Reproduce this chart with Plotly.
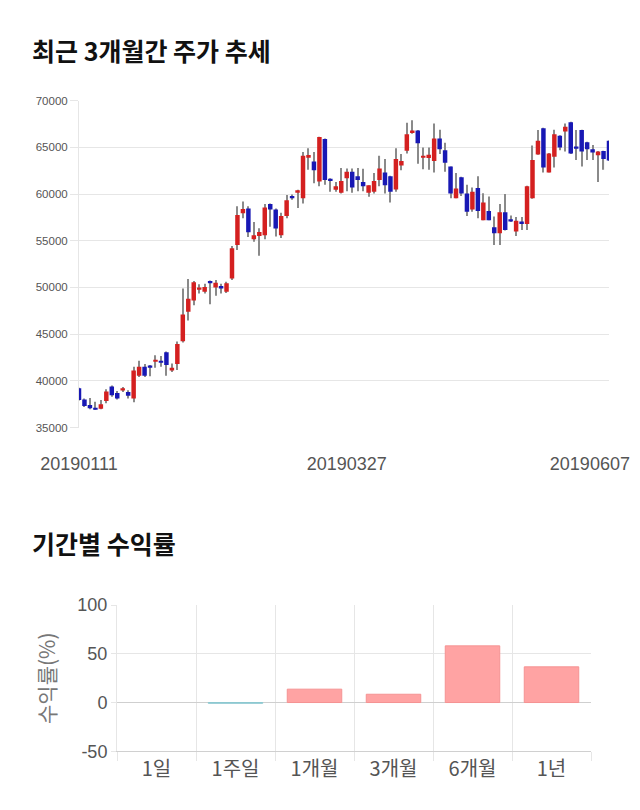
import plotly.graph_objects as go

# ---------------- data ----------------
date_ticks = ["20190111", "20190327", "20190607"]
date_tick_pos = [0, 49, 93.5]

opens = [39200, 38000, 37400, 37100, 37000, 37850, 39400, 38700, 38950, 38800,
         38100, 40550, 41500, 41650, 42050, 42150, 43050, 41100, 41800, 44250,
         47400, 48600, 49850, 49550, 50700, 50000, 50150, 49550, 50950, 54550,
         57950, 58450, 55150, 55500, 55600, 58950, 58350, 55600, 57650, 59800,
         60250, 59550, 64000, 63500, 61350, 65900, 61650, 60450, 60150, 61700,
         62400, 61900, 61300, 60150, 60250, 61500, 62300, 61900, 60500, 63050,
         64650, 66550, 66800, 63900, 63850, 63550, 65950, 64700, 62950, 59550,
         61800, 60050, 58350, 60650, 57200, 58200, 56450, 55800, 58050, 57300,
         56000, 57050, 56800, 59550, 64250, 67050, 62300, 64000, 66250, 66700,
         67700, 65100, 66850, 65550, 64800, 64150, 64600, 65700]
highs = [39250, 38100, 38150, 37750, 37950, 39100, 39500, 38900, 39350, 39000,
         41500, 42150, 41800, 41700, 42750, 42650, 43150, 41850, 44200, 49900,
         50900, 50700, 50350, 50400, 50750, 50800, 50400, 50600, 54450, 58700,
         59200, 58700, 57000, 56350, 58950, 59000, 58450, 58000, 59900, 59950,
         60450, 64500, 64900, 64500, 66150, 65950, 61700, 61300, 62800, 62750,
         62750, 62800, 62700, 60950, 62250, 64100, 63750, 61950, 64900, 64300,
         67650, 67900, 66850, 65000, 65000, 67550, 66900, 65500, 62950, 62250,
         61850, 61000, 60700, 61900, 60100, 59750, 57600, 58950, 60000, 57700,
         57550, 57550, 60900, 65200, 66850, 67100, 64400, 66900, 66300, 67550,
         67750, 66850, 66900, 65600, 65250, 64600, 64650, 65750]
lows = [37900, 37200, 36950, 36900, 36950, 37600, 38300, 38000, 38800, 38100,
        37700, 40400, 40400, 40500, 41400, 41500, 40550, 40950, 41150, 44100,
        46450, 48100, 49350, 49350, 48200, 49100, 49350, 49400, 50800, 54000,
        57400, 55400, 54900, 53400, 55150, 56500, 55450, 55300, 57400, 59400,
        58500, 59000, 62600, 61150, 60850, 61000, 60250, 60250, 60050, 60300,
        60150, 60300, 60300, 59700, 60050, 60850, 60050, 59100, 60250, 62550,
        64350, 66450, 63250, 62650, 62600, 62300, 64300, 62400, 59550, 59550,
        59800, 57650, 58100, 57400, 57200, 57200, 54550, 54550, 56100, 57000,
        55500, 56150, 56150, 59500, 64200, 62300, 62300, 62850, 64700, 64550,
        64300, 63650, 62950, 63650, 63650, 61300, 62600, 63550]
closes = [37950, 37300, 37050, 36950, 37500, 38850, 38450, 38100, 39200, 38400,
          41100, 41500, 40550, 41450, 42200, 41950, 41700, 41400, 43950, 47100,
          48800, 50550, 50000, 50050, 50450, 50500, 49900, 50450, 54200, 57750,
          58400, 55900, 55600, 55950, 58550, 58350, 56300, 57650, 59350, 59550,
          60400, 64100, 64180, 62550, 66100, 61500, 61400, 60850, 61400, 62400,
          60700, 61500, 60850, 60950, 61400, 62750, 60950, 60250, 63750, 63550,
          66400, 66800, 65450, 64100, 64200, 65950, 64800, 63350, 60050, 60600,
          60050, 58100, 60250, 58200, 59100, 57200, 55800, 58050, 56150, 57050,
          57150, 56800, 60850, 63650, 65700, 62850, 64350, 66400, 65000, 67200,
          64350, 64950, 64550, 64800, 64450, 64550, 63750, 63600]

periods = ["1일", "1주일", "1개월", "3개월", "6개월", "1년"]
returns = [0.0, -0.8, 13.7, 8.5, 58.1, 36.6]
ret_ticks = [-50, 0, 50, 100]
ret_ticktext = ["-50", "0", "50", "100"]

# ---------------- styles ----------------
UP = "#d42020"
DOWN = "#1818b4"
WICK = "#8a8a8a"
GRID = "#e6e6e6"
W, H = 640, 810
OFF = 8  # page body margin offset (browser default)


def px_x(x):
    return (x - OFF) / W


def px_y(y):
    return 1 - (y - OFF) / H


idx = list(range(len(opens)))
body_base = [min(o, c) for o, c in zip(opens, closes)]
body_len = [max(abs(c - o), 130) for o, c in zip(opens, closes)]
body_col = [UP if c >= o else DOWN for o, c in zip(opens, closes)]

fig = go.Figure()

fig.add_trace(go.Bar(
    x=idx, y=[h - l for h, l in zip(highs, lows)], base=lows,
    width=0.2, marker=dict(color=WICK, line=dict(width=0)),
    xaxis="x", yaxis="y", hoverinfo="skip", showlegend=False))
fig.add_trace(go.Bar(
    x=idx, y=body_len, base=body_base,
    width=0.82, marker=dict(color=body_col, line=dict(width=0)),
    xaxis="x", yaxis="y", showlegend=False))

ret_col = ["#ffa3a3" if r >= 0 else "#a8d8de" for r in returns]
ret_line = ["#f59393" if r >= 0 else "#8cc8d0" for r in returns]
ret_lw = [0 if r == 0 else 1 for r in returns]
fig.add_trace(go.Bar(
    x=periods, y=returns, width=0.69,
    marker=dict(color=ret_col, line=dict(color=ret_line, width=ret_lw)),
    xaxis="x2", yaxis="y2", showlegend=False))

num_font = "Liberation Sans, Arial, Noto Sans CJK KR, sans-serif"
kr_font = "Noto Sans CJK KR, Liberation Sans, sans-serif"

fig.update_layout(
    width=W, height=H,
    margin=dict(l=0, r=0, t=0, b=0, autoexpand=False),
    paper_bgcolor="white", plot_bgcolor="white",
    barmode="overlay",
    font=dict(family=num_font, color="#555"),
    xaxis=dict(
        domain=[px_x(79), px_x(609)], range=[0, len(opens) - 1], anchor="y",
        tickvals=date_tick_pos, ticktext=date_ticks,
        ticks="outside", ticklen=20, tickcolor="rgba(0,0,0,0)",
        tickfont=dict(size=18, color="#555"), automargin=False,
        showgrid=False, zeroline=False, showline=False, fixedrange=True),
    yaxis=dict(
        domain=[px_y(427.5), px_y(100.7)], range=[35000, 70000],
        anchor="x", dtick=5000, tickformat="d", automargin=False,
        ticks="outside", ticklen=8, tickcolor=GRID,
        tickfont=dict(size=11.5, color="#555"),
        showgrid=True, gridcolor=GRID, zeroline=False,
        showline=True, linecolor=GRID, linewidth=1),
    xaxis2=dict(
        domain=[px_x(117), px_x(591)], type="category", anchor="y2",
        tickson="boundaries", ticks="outside", ticklen=9, tickcolor=GRID,
        tickfont=dict(size=20, color="#555", family=kr_font), automargin=False,
        showgrid=True, gridcolor=GRID, zeroline=False,
        showline=True, linecolor="#d0d0d0", linewidth=1),
    yaxis2=dict(
        domain=[px_y(751.3), px_y(605)], range=[-50, 100], anchor="x2",
        tickvals=ret_ticks, ticktext=ret_ticktext, automargin=False,
        ticks="outside", ticklen=5, tickcolor=GRID,
        tickfont=dict(size=18, color="#555"),
        showgrid=True, gridcolor=GRID,
        zeroline=True, zerolinecolor="#cfcfcf", zerolinewidth=1,
        showline=True, linecolor=GRID, linewidth=1),
    annotations=[
        dict(text="<b>최근 3개월간 주가 추세</b>", x=px_x(30), y=px_y(50),
             xref="paper", yref="paper", xanchor="left", yanchor="middle",
             showarrow=False, font=dict(size=25, color="#111", family=kr_font)),
        dict(text="<b>기간별 수익률</b>", x=px_x(30), y=px_y(543),
             xref="paper", yref="paper", xanchor="left", yanchor="middle",
             showarrow=False, font=dict(size=25, color="#111", family=kr_font)),
        dict(text="수익률(%)", x=px_x(46), y=px_y(678), textangle=-90,
             xref="paper", yref="paper", xanchor="center", yanchor="middle",
             showarrow=False, font=dict(size=21, color="#777", family=kr_font)),
    ],
)

fig.write_html("out.html")
